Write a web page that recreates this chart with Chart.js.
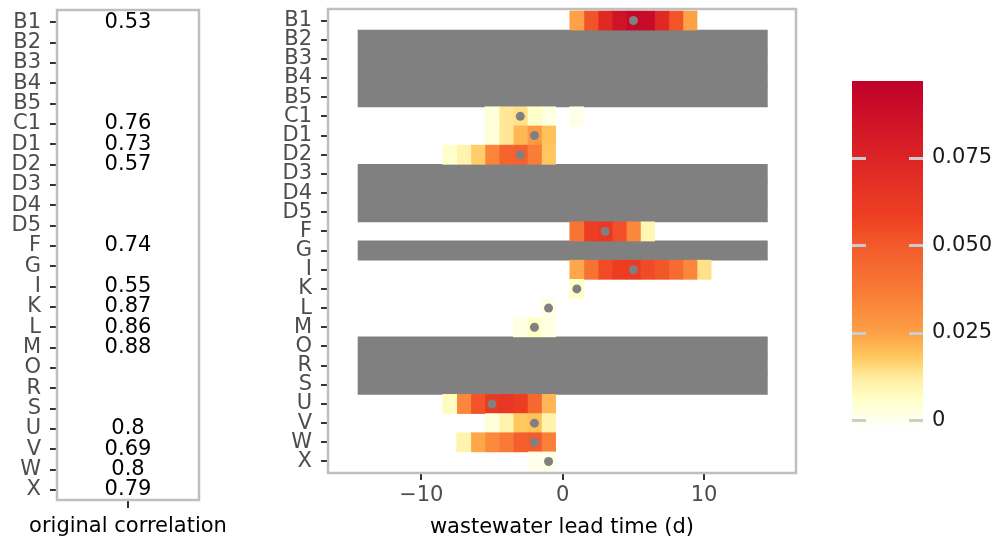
<!DOCTYPE html>
<html>
<head>
<meta charset="utf-8">
<script src="https://cdn.jsdelivr.net/npm/chart.js@4.4.1/dist/chart.umd.min.js"></script>
<style>
  html, body { margin: 0; padding: 0; background: #fff; }
  body { width: 994px; height: 546px; position: relative; overflow: hidden; }
  .panel { position: absolute; top: 0; height: 546px; }
  #leftBox { left: 0; width: 250px; }
  #heatBox { left: 250px; width: 560px; }
  #barBox { left: 820px; width: 174px; }
</style>
</head>
<body>
<div class="panel" id="leftBox"><canvas id="corrChart"></canvas></div>
<div class="panel" id="heatBox"><canvas id="heatChart"></canvas></div>
<div class="panel" id="barBox"><canvas id="scaleChart"></canvas></div>
<script>
// rows, top to bottom
const categories = ['B1', 'B2', 'B3', 'B4', 'B5', 'C1', 'D1', 'D2', 'D3', 'D4', 'D5', 'F',
                    'G', 'I', 'K', 'L', 'M', 'O', 'R', 'S', 'U', 'V', 'W', 'X'];
const correlation = [0.53, null, null, null, null, 0.76, 0.73, 0.57, null, null, null, 0.74,
                     null, 0.55, 0.87, 0.86, 0.88, null, null, null, 0.8, 0.69, 0.8, 0.79];
const missingRows = ['B2', 'B3', 'B4', 'B5', 'D3', 'D4', 'D5', 'G', 'O', 'R', 'S'];

const lagValues = [-14, -13, -12, -11, -10, -9, -8, -7, -6, -5, -4, -3, -2, -1, 0,
                   1, 2, 3, 4, 5, 6, 7, 8, 9, 10, 11, 12, 13, 14];
// first lag of each row's cells, and the cell values from there on
const heatStart = [1, null, null, null, null, -5, -5, -8, null, null, null, 1,
                   null, 1, 1, -1, -3, null, null, null, -8, -5, -7, -2];
const heatValues = [
  [0.025, 0.052, 0.072, 0.085, 0.092, 0.090, 0.072, 0.052, 0.025],
  [], [], [], [],
  [0.003, 0.013, 0.014, 0.006, 0.002, null, 0.001],
  [0.003, 0.013, 0.021, 0.027, 0.019],
  [0.005, 0.010, 0.017, 0.034, 0.046, 0.047, 0.036, 0.018],
  [], [], [],
  [0.040, 0.060, 0.063, 0.053, 0.033, 0.009],
  [],
  [0.024, 0.040, 0.055, 0.060, 0.061, 0.055, 0.051, 0.043, 0.033, 0.014],
  [0.006],
  [0.001],
  [0.002, 0.006, 0.002],
  [], [], [],
  [0.007, 0.033, 0.052, 0.062, 0.064, 0.060, 0.044, 0.021],
  [0.003, 0.010, 0.018, 0.019, 0.010],
  [0.010, 0.024, 0.032, 0.037, 0.048, 0.049, 0.035],
  [0.0005, 0.001]
];
const peakLag = [5, null, null, null, null, -3, -2, -3, null, null, null, 3,
                 null, 5, 1, -1, -2, null, null, null, -5, -2, -2, -1];

const xTicks = [-10, 0, 10];
const scaleTicks = [0, 0.025, 0.05, 0.075];
const scaleMin = -0.0014;
const scaleMax = 0.097;

const FONT = "'DejaVu Sans', sans-serif";
const FS = 21;

// colour ramp (value -> rgb)
const colorStops = [
  [0, [255, 255, 238]], [0.006, [255, 255, 200]], [0.012, [255, 237, 160]],
  [0.018, [254, 200, 95]], [0.025, [253, 160, 70]], [0.037, [249, 122, 54]],
  [0.05, [242, 90, 43]], [0.058, [238, 64, 35]], [0.075, [220, 36, 37]],
  [0.097, [192, 0, 42]]
];

function heatColor(v) {
  if (v <= colorStops[0][0]) return 'rgb(' + colorStops[0][1].join(',') + ')';
  for (let i = 1; i < colorStops.length; i++) {
    const [v1, c1] = colorStops[i];
    const [v0, c0] = colorStops[i - 1];
    if (v <= v1) {
      const t = (v - v0) / (v1 - v0);
      const c = c0.map((a, k) => Math.round(a + (c1[k] - a) * t));
      return 'rgb(' + c.join(',') + ')';
    }
  }
  return 'rgb(' + colorStops[colorStops.length - 1][1].join(',') + ')';
}

function minusSign(v) {
  return v < 0 ? '\u2212' + Math.abs(v) : String(v);
}

// light grey box round the plot area
const framePlugin = {
  id: 'frame',
  afterDatasetsDraw(chart) {
    const { ctx, chartArea: a } = chart;
    ctx.save();
    ctx.strokeStyle = '#bfbfbf';
    ctx.lineWidth = 2.5;
    ctx.strokeRect(a.left, a.top, a.right - a.left, a.bottom - a.top);
    ctx.restore();
  }
};

// category axis with a little more room above the first row than below the last
const yAxis = (width, lo, hi) => ({
  type: 'category',
  labels: categories,
  offset: true,
  grid: { offset: false, drawOnChartArea: false, drawTicks: true, tickLength: 7, color: '#333', lineWidth: 2 },
  border: { display: false },
  ticks: { color: '#4d4d4d', font: { family: FONT, size: FS }, padding: 9, autoSkip: false },
  afterBuildTicks(scale) {
    scale._startValue = lo;
    scale._valueRange = hi - lo;
  },
  afterFit(scale) {
    scale.width = width;
    scale.paddingTop = 0;
    scale.paddingBottom = 0;
  }
});

Chart.defaults.animation = false;
Chart.defaults.events = [];

// ---- left panel: original correlation ----
const corrText = {
  id: 'corrText',
  afterDatasetsDraw(chart) {
    const { ctx, scales } = chart;
    ctx.save();
    ctx.fillStyle = '#000';
    ctx.font = FS + 'px ' + FONT;
    ctx.textAlign = 'center';
    ctx.textBaseline = 'middle';
    correlation.forEach((r, i) => {
      if (r === null) return;
      ctx.fillText(String(r), scales.x.getPixelForValue(0.5), scales.y.getPixelForValue(i));
    });
    // axis title, drawn here so it is not squeezed to the narrow panel
    ctx.fillText('original correlation', scales.x.getPixelForValue(0.5), 527);
    ctx.restore();
  }
};

new Chart(document.getElementById('corrChart'), {
  type: 'bar',
  data: { labels: categories, datasets: [] },
  options: {
    responsive: true,
    maintainAspectRatio: false,
    indexAxis: 'y',
    layout: { padding: { left: 0, top: 10, right: 51, bottom: 0 } },
    plugins: { legend: { display: false }, tooltip: { enabled: false } },
    scales: {
      x: {
        type: 'linear', min: 0, max: 1,
        afterBuildTicks(scale) { scale.ticks = [{ value: 0.5 }]; },
        ticks: { callback: () => '' },
        grid: { drawOnChartArea: false, tickLength: 8, color: '#333', lineWidth: 2 },
        border: { display: false },
        afterFit(scale) { scale.height = 46; }
      },
      y: yAxis(57, -0.6, 23.5)
    }
  },
  plugins: [corrText, framePlugin]
});

// ---- middle panel: lead-time heat map ----
const heatDatasets = lagValues.map(lag => {
  const data = [];
  const colors = [];
  categories.forEach((c, i) => {
    const start = heatStart[i];
    const k = lag - start;
    const v = (start === null || k < 0 || k >= heatValues[i].length) ? null : heatValues[i][k];
    data.push(v === null ? null : [lag - 0.5, lag + 0.5]);
    colors.push(v === null ? 'rgba(0,0,0,0)' : heatColor(v));
  });
  return { type: 'bar', data, backgroundColor: colors, borderWidth: 0,
           barPercentage: 1, categoryPercentage: 1, grouped: false, order: 2 };
});

const missingDataset = {
  type: 'bar',
  data: categories.map(c => missingRows.includes(c) ? [-14.5, 14.5] : null),
  backgroundColor: '#808080',
  borderWidth: 0,
  barPercentage: 1.04, categoryPercentage: 1, grouped: false, order: 3
};

const peakDataset = {
  type: 'scatter',
  data: categories.map((c, i) => peakLag[i] === null ? null : { x: peakLag[i], y: c }).filter(p => p),
  backgroundColor: '#808080',
  borderWidth: 0,
  pointRadius: 4.5,
  showLine: false,
  order: 0
};

new Chart(document.getElementById('heatChart'), {
  type: 'bar',
  data: { labels: categories, datasets: [peakDataset, missingDataset, ...heatDatasets] },
  options: {
    responsive: true,
    maintainAspectRatio: false,
    indexAxis: 'y',
    layout: { padding: { left: 0, top: 9, right: 14, bottom: 0 } },
    plugins: { legend: { display: false }, tooltip: { enabled: false } },
    scales: {
      x: {
        type: 'linear', min: -16.6, max: 16.5,
        afterBuildTicks(scale) { scale.ticks = xTicks.map(v => ({ value: v })); },
        ticks: { color: '#4d4d4d', font: { family: FONT, size: FS }, padding: 3, callback: minusSign },
        grid: { drawOnChartArea: false, tickLength: 7, color: '#333', lineWidth: 2 },
        border: { display: false },
        title: { display: true, text: 'wastewater lead time (d)', color: '#000',
                 font: { family: FONT, size: FS }, padding: { top: 0, bottom: 6 } },
        afterFit(scale) { scale.height = 73; scale.paddingLeft = 0; scale.paddingRight = 0; }
      },
      y: yAxis(78, -0.6, 23.6)
    }
  },
  plugins: [framePlugin]
});

// ---- colour bar ----
const scaleMarks = {
  id: 'scaleMarks',
  afterDatasetsDraw(chart) {
    const { ctx, chartArea: a, scales } = chart;
    ctx.save();
    ctx.strokeStyle = '#cccccc';
    ctx.lineWidth = 3;
    scaleTicks.forEach(t => {
      const y = Math.round(scales.y.getPixelForValue(t)) + 0.5;
      ctx.beginPath();
      ctx.moveTo(a.left, y); ctx.lineTo(a.left + 14, y);
      ctx.moveTo(a.right - 14, y); ctx.lineTo(a.right, y);
      ctx.stroke();
    });
    ctx.restore();
  }
};

new Chart(document.getElementById('scaleChart'), {
  type: 'bar',
  data: {
    labels: ['density'],
    datasets: [{
      data: [[scaleMin, scaleMax]],
      barPercentage: 1, categoryPercentage: 1, borderWidth: 0,
      backgroundColor(ctx) {
        const { chart } = ctx;
        if (!chart.chartArea) return null;
        const y = chart.scales.y;
        const y0 = y.getPixelForValue(scaleMin);
        const y1 = y.getPixelForValue(scaleMax);
        const g = chart.ctx.createLinearGradient(0, y0, 0, y1);
        colorStops.forEach(([v]) => {
          g.addColorStop((v - scaleMin) / (scaleMax - scaleMin), heatColor(v));
        });
        g.addColorStop(0, heatColor(0));
        return g;
      }
    }]
  },
  options: {
    responsive: true,
    maintainAspectRatio: false,
    layout: { padding: { left: 32, top: 81, right: 0, bottom: 0 } },
    plugins: { legend: { display: false }, tooltip: { enabled: false } },
    scales: {
      x: { display: false, afterFit(scale) { scale.height = 121; } },
      y: {
        position: 'right', min: scaleMin, max: scaleMax,
        afterBuildTicks(scale) { scale.ticks = scaleTicks.map(v => ({ value: v })); },
        ticks: { color: '#1a1a1a', font: { family: FONT, size: FS }, padding: 9,
                 callback: v => v === 0 ? '0' : v.toFixed(3) },
        grid: { display: false, drawTicks: false, tickLength: 0 },
        border: { display: false },
        afterFit(scale) { scale.width = 71; scale.paddingTop = 0; scale.paddingBottom = 0; }
      }
    }
  },
  plugins: [scaleMarks]
});
</script>
</body>
</html>
